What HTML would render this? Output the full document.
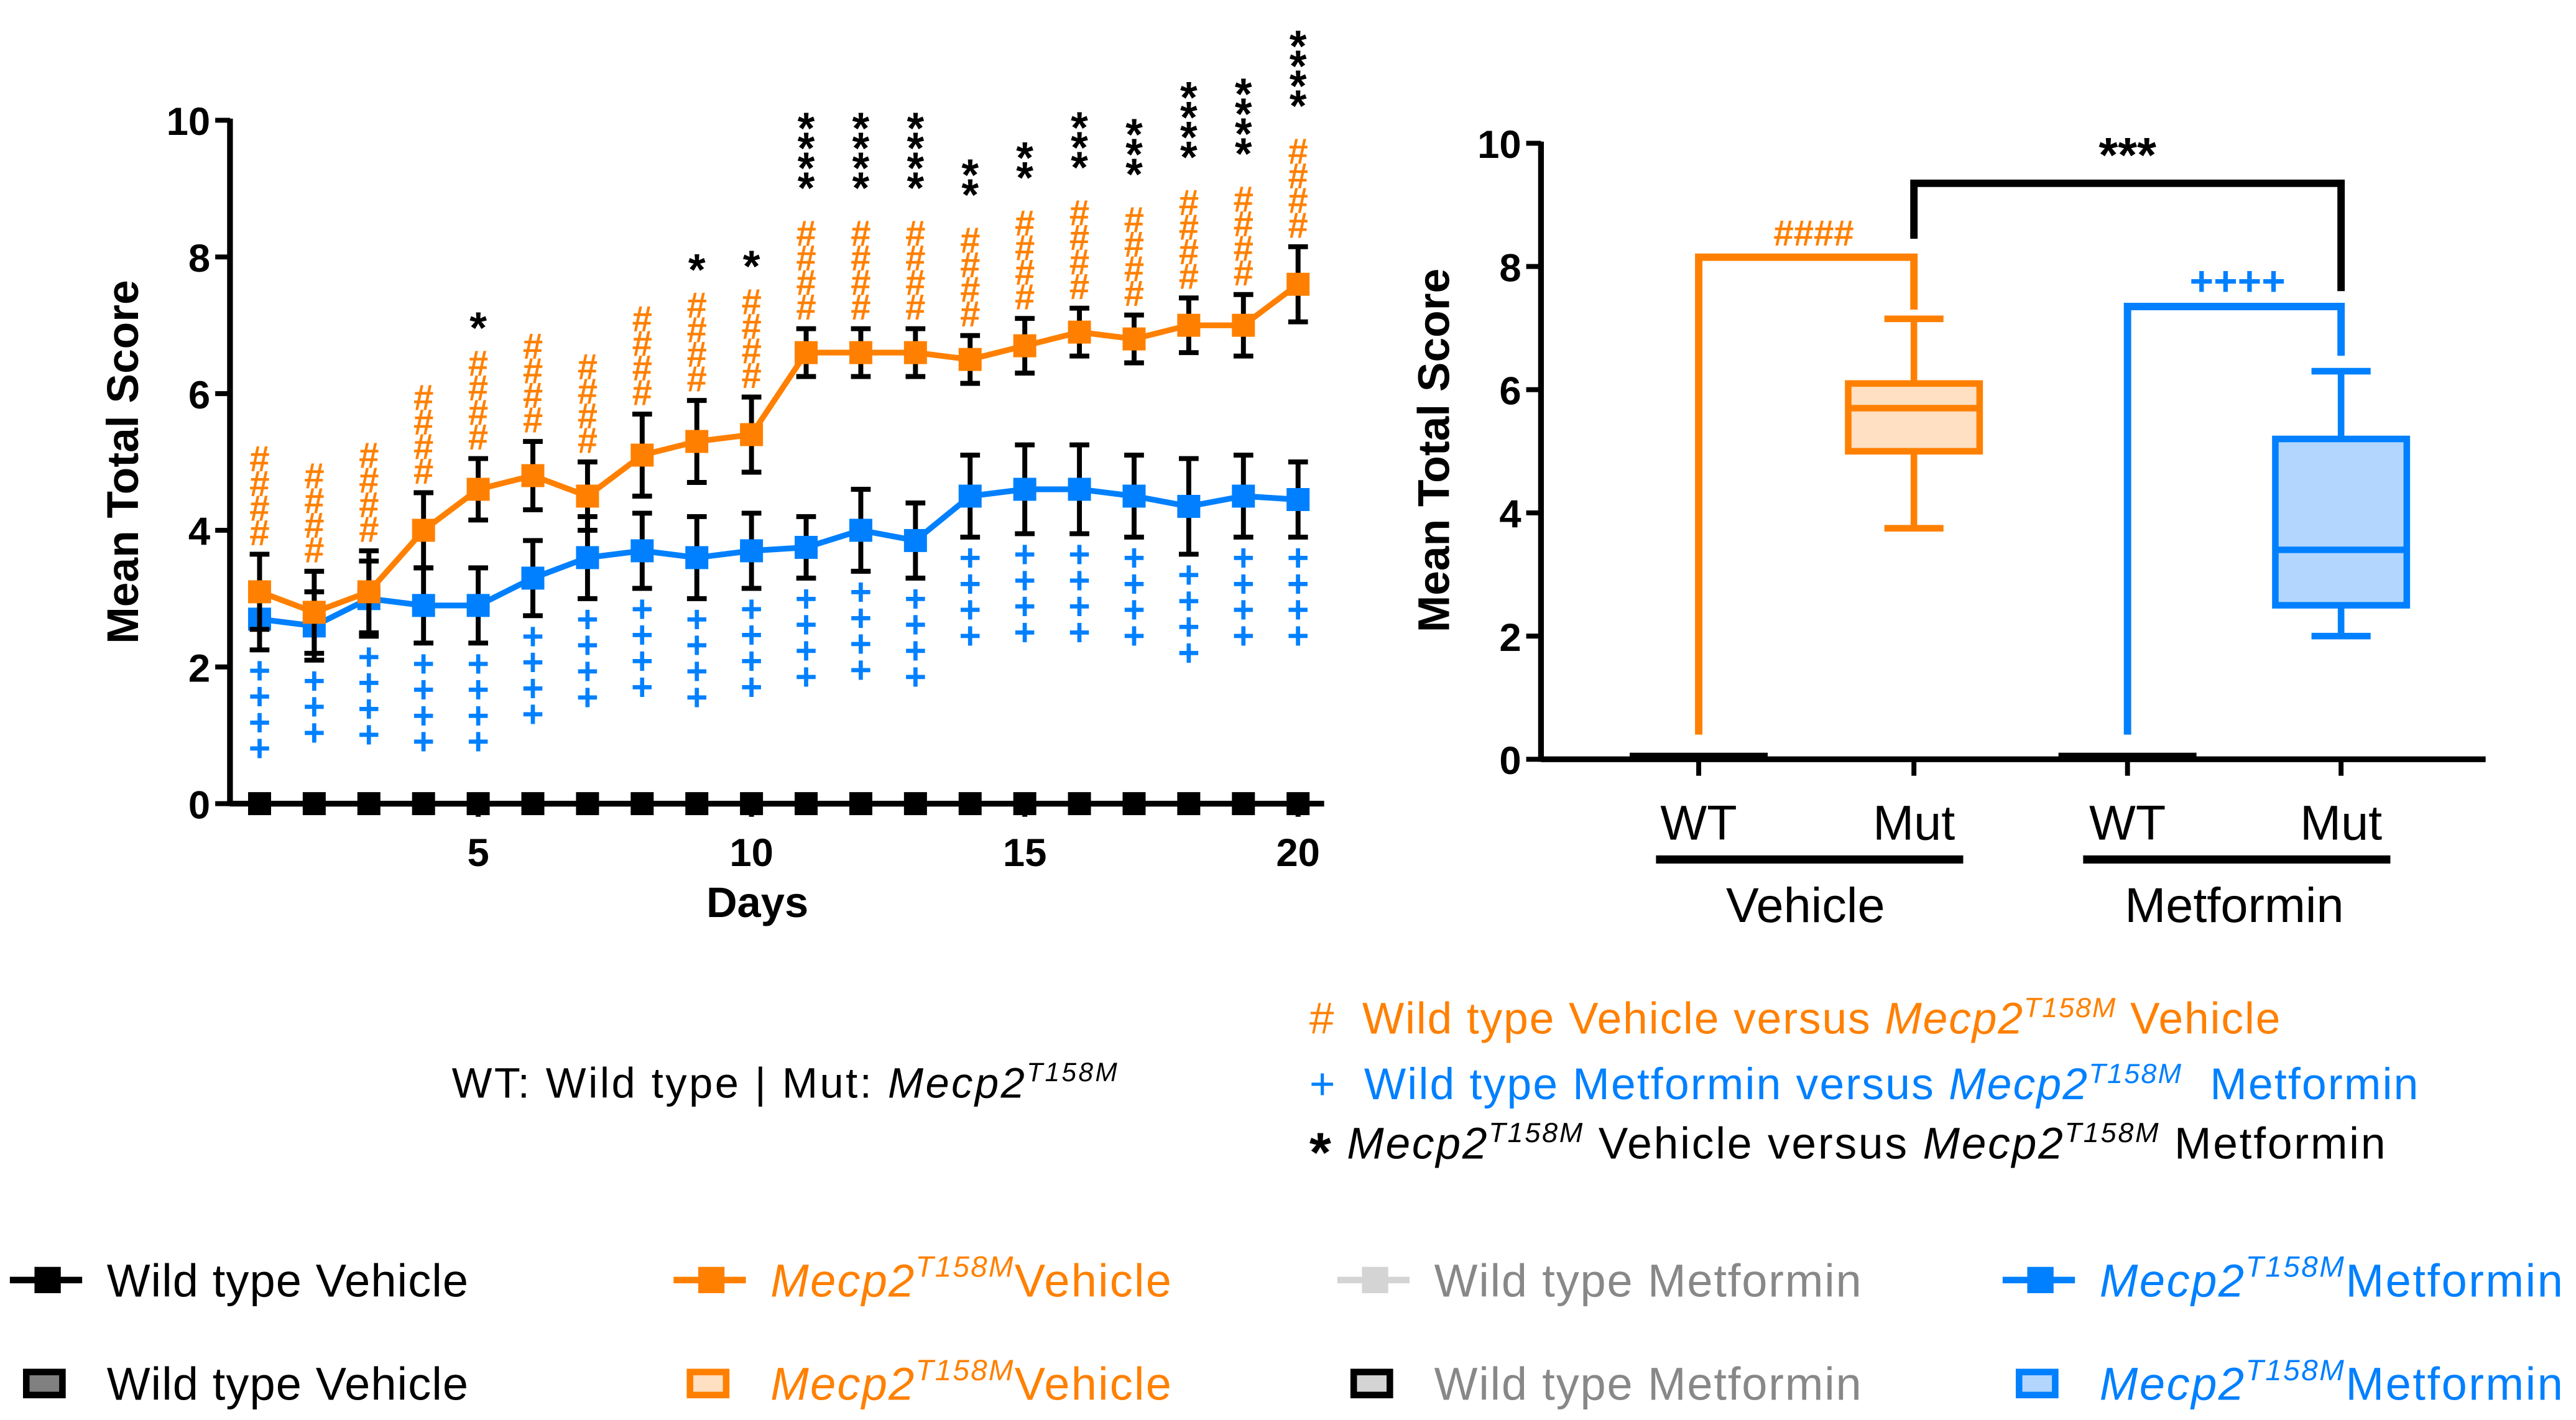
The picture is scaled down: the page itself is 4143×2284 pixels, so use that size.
<!DOCTYPE html>
<html><head><meta charset="utf-8"><style>
html,body{margin:0;padding:0;background:#fff;}
svg{display:block;}
text{font-family:"Liberation Sans",sans-serif;}
</style></head><body>
<svg id="fig" width="4143" height="2284" viewBox="0 0 1568 864" xmlns="http://www.w3.org/2000/svg">
<g id="left"></g>
<g id="right"></g>
<g id="notes">
<text x="275" y="668" font-size="26" fill="#000" textLength="405">WT: Wild type | Mut: <tspan font-style="italic">Mecp2</tspan><tspan font-style="italic" font-size="16" dy="-10">T158M</tspan></text>
<text x="797" y="629" font-size="27" fill="#ff8000" textLength="591"># &#160;Wild type Vehicle versus <tspan font-style="italic">Mecp2</tspan><tspan font-style="italic" font-size="17" dy="-10">T158M</tspan><tspan dy="10"> Vehicle</tspan></text>
<text x="797" y="669" font-size="27" fill="#0080ff" textLength="675">+ &#160;Wild type Metformin versus <tspan font-style="italic">Mecp2</tspan><tspan font-style="italic" font-size="17" dy="-10">T158M</tspan><tspan dy="10"> &#160;Metformin</tspan></text>
<text x="797" y="705" font-size="27" fill="#000" textLength="655"><tspan font-size="34" font-weight="bold" dy="8">*</tspan><tspan dy="-8"> </tspan><tspan font-style="italic">Mecp2</tspan><tspan font-style="italic" font-size="17" dy="-10">T158M</tspan><tspan dy="10"> Vehicle versus </tspan><tspan font-style="italic">Mecp2</tspan><tspan font-style="italic" font-size="17" dy="-10">T158M</tspan><tspan dy="10"> Metformin</tspan></text>
</g>
<g id="legend"></g>
</svg>
<script>
// ---- line chart data ----
const days = [1,2,3,4,5,6,7,8,9,10,11,12,13,14,15,16,17,18,19,20];
const mutVeh = [3.1,2.8,3.1,4.0,4.6,4.8,4.5,5.1,5.3,5.4,6.6,6.6,6.6,6.5,6.7,6.9,6.8,7.0,7.0,7.6];
const mutVehErr = [0.55,0.6,0.6,0.55,0.45,0.5,0.5,0.6,0.6,0.55,0.35,0.35,0.35,0.35,0.4,0.35,0.35,0.4,0.45,0.55];
const mutMet = [2.7,2.6,3.0,2.9,2.9,3.3,3.6,3.7,3.6,3.7,3.75,4.0,3.85,4.5,4.6,4.6,4.5,4.35,4.5,4.45];
const mutMetErr = [0.45,0.5,0.55,0.55,0.55,0.55,0.6,0.55,0.6,0.55,0.45,0.6,0.55,0.6,0.65,0.65,0.6,0.7,0.6,0.55];
const wtVeh = [0,0,0,0,0,0,0,0,0,0,0,0,0,0,0,0,0,0,0,0];
const hashCount = [4,4,4,4,4,4,4,4,4,4,4,4,4,4,4,4,4,4,4,4];
const plusCount = [4,3,4,4,4,4,4,4,4,4,4,4,4,4,4,4,4,4,4,4];
const starCount = [0,0,0,0,1,0,0,0,1,1,4,4,4,2,2,3,3,4,4,4];
const yTicks = [0,2,4,6,8,10];
const xTicks = [5,10,15,20];
// ---- box chart data ----
const boxCats = ["WT","Mut","WT","Mut"];
const boxStats = [null,{min:3.75,q1:5.0,med:5.7,q3:6.1,max:7.15},null,{min:2.0,q1:2.5,med:3.4,q3:5.2,max:6.3}];

const NS="http://www.w3.org/2000/svg";
function mk(parent,tag,attrs,txt){const e=document.createElementNS(NS,tag);for(const k in attrs)e.setAttribute(k,attrs[k]);if(txt!==undefined)e.textContent=txt;parent.appendChild(e);return e;}

const OR="#ff8000", BL="#0080ff";
const L=document.getElementById('left');
const lx=d=>158+(d-1)*33.27, ly=v=>489-v*41.6;
let e;
e=mk(L,'line',{x1:140,y1:ly(0),x2:806,y2:ly(0),stroke:'#000','stroke-width':3.5});


e=mk(L,'line',{x1:140,y1:ly(10)-1,x2:140,y2:ly(0)+1.5,stroke:'#000','stroke-width':3.5});


yTicks.forEach(t=>{
  mk(L,'line',{x1:131,y1:ly(t),x2:140,y2:ly(t),stroke:'#000','stroke-width':3});
  e=mk(L,'text',{x:128,y:ly(t)+9,'font-size':24,'font-weight':'bold','text-anchor':'end'},t);
  
  
});
xTicks.forEach(t=>{
  mk(L,'line',{x1:lx(t),y1:ly(0),x2:lx(t),y2:ly(0)+8,stroke:'#000','stroke-width':3});
  e=mk(L,'text',{x:lx(t),y:527,'font-size':24,'font-weight':'bold','text-anchor':'middle'},t);
  
  
});
e=mk(L,'text',{x:461,y:558,'font-size':26,'font-weight':'bold','text-anchor':'middle'},'Days');


e=mk(L,'text',{x:0,y:0,'font-size':27,'font-weight':'bold','text-anchor':'middle',transform:'translate(84,281) rotate(-90)'},'Mean Total Score');



function series(vals,errs,col,name){
  const g=mk(L,'g',{});
  
  
  if(errs) vals.forEach((v,i)=>{
    const x=lx(days[i]),a=ly(v+errs[i]),b=ly(v-errs[i]);
    mk(g,'path',{d:`M${x},${a}V${b}M${x-6},${a}H${x+6}M${x-6},${b}H${x+6}`,stroke:'#000','stroke-width':3,fill:'none'});
  });
  mk(g,'polyline',{points:vals.map((v,i)=>lx(days[i])+','+ly(v)).join(' '),stroke:col,'stroke-width':3.5,fill:'none'});
  vals.forEach((v,i)=>{
    const m=mk(g,'rect',{x:lx(days[i])-7,y:ly(v)-7,width:14,height:14,fill:col});
    
    
  });
}
series(wtVeh,null,'#000','wild-type-vehicle-series');
series(mutMet,mutMetErr,BL,'mecp2-metformin-series');
series(mutVeh,mutVehErr,OR,'mecp2-vehicle-series');
days.forEach((d,i)=>{
  const x=lx(d);
  const top=mutVeh[i]+mutVehErr[i];
  let y=top+0.3;
  for(let k=0;k<hashCount[i];k++){
    e=mk(L,'text',{x:x,y:ly(y+k*0.36)+7,'font-size':22,'font-weight':'bold','text-anchor':'middle',fill:OR},'#');
    
    
  }
  let sy=y+(hashCount[i]-1)*0.36+0.75;
  if(starCount[i]===1) sy=y+(hashCount[i]-1)*0.36+0.6;
  for(let k=0;k<starCount[i];k++){
    e=mk(L,'text',{x:x,y:ly(sy+k*0.29)+12,'font-size':27,'font-weight':'bold','text-anchor':'middle',fill:'#000'},'*');
    
    
  }
  const bot=mutMet[i]-mutMetErr[i];
  for(let k=0;k<plusCount[i];k++){
    e=mk(L,'text',{x:x,y:ly(bot-0.3-k*0.38)+8,'font-size':23,'font-weight':'bold','text-anchor':'middle',fill:BL},'+');
    
    
  }
});

const R=document.getElementById('right');
const rx=[1034,1165,1295,1425], ry=v=>462-v*37.5;
e=mk(R,'line',{x1:938,y1:ry(0),x2:1513,y2:ry(0),stroke:'#000','stroke-width':3.5});


e=mk(R,'line',{x1:938,y1:ry(10)-1,x2:938,y2:ry(0)+1.5,stroke:'#000','stroke-width':3.5});


yTicks.forEach(t=>{
  mk(R,'line',{x1:929,y1:ry(t),x2:938,y2:ry(t),stroke:'#000','stroke-width':3});
  e=mk(R,'text',{x:926,y:ry(t)+9,'font-size':24,'font-weight':'bold','text-anchor':'end'},t);
  
  
});
e=mk(R,'text',{x:0,y:0,'font-size':27,'font-weight':'bold','text-anchor':'middle',transform:'translate(882,274) rotate(-90)'},'Mean Total Score');


boxCats.forEach((c,i)=>{
  mk(R,'line',{x1:rx[i],y1:ry(0),x2:rx[i],y2:ry(0)+10,stroke:'#000','stroke-width':3});
  e=mk(R,'text',{x:rx[i],y:511,'font-size':30,'text-anchor':'middle'},c);
  
  
});
[[1008,1195,1099,'Vehicle'],[1268,1455,1360,'Metformin']].forEach(g=>{
  mk(R,'line',{x1:g[0],y1:523,x2:g[1],y2:523,stroke:'#000','stroke-width':5});
  e=mk(R,'text',{x:g[2],y:561,'font-size':30,'text-anchor':'middle'},g[3]);
  
  
});
const fills=[null,'#ffe0c2',null,'#b3d6ff'], strokes=['#000',OR,'#000',BL];
boxStats.forEach((s,i)=>{
  const x=rx[i];
  if(!s){
    e=mk(R,'rect',{x:x-42,y:ry(0)-4,width:84,height:5,fill:'#000'});
    
    
    return;
  }
  const g=mk(R,'g',{stroke:strokes[i],'stroke-width':4,fill:'none'});
  
  
  mk(g,'path',{d:`M${x},${ry(s.max)}V${ry(s.q3)}M${x},${ry(s.q1)}V${ry(s.min)}M${x-18},${ry(s.max)}H${x+18}M${x-18},${ry(s.min)}H${x+18}`});
  mk(g,'rect',{x:x-40,y:ry(s.q3),width:80,height:ry(s.q1)-ry(s.q3),fill:fills[i]});
  mk(g,'line',{x1:x-40,y1:ry(s.med),x2:x+40,y2:ry(s.med)});
});
function bracket(x1,x2,yl,yt,yr,col,lbl,lx_,lsz,name){
  e=mk(R,'path',{d:`M${x1},${ry(yl)}V${ry(yt)}H${x2}V${ry(yr)}`,stroke:col,'stroke-width':4.5,fill:'none'});
  
  
  e=mk(R,'text',{x:lx_,y:ry(yt)-7,'font-size':lsz,'font-weight':'bold','text-anchor':'middle',fill:col},lbl);
  
  
}
bracket(rx[0],rx[1],0.4,8.15,7.3,OR,'####',1104,22,'vehicle-bracket');
bracket(rx[2],rx[3],0.4,7.35,6.55,BL,'++++',1362,25,'metformin-bracket');
bracket(rx[1],rx[3],8.45,9.35,7.6,'#000','***',1295,30,'mutant-bracket');

const LG=document.getElementById('legend');
const items=[['Wild type Vehicle','#000','#000',false,'#000','#808080',220],
 ['Vehicle',OR,OR,true,OR,'#ffe0c2',244],
 ['Wild type Metformin','#888','#d4d4d4',false,'#000','#d4d4d4',260],
 ['Metformin',BL,BL,true,BL,'#b3d6ff',282]];
const lxs=[8,412,816,1221];
items.forEach((it,i)=>{
  const x=lxs[i];
  [0,1].forEach(r=>{
    const y=r?842:779;
    const g=mk(LG,'g',{});
    
    
    if(!r){
      mk(g,'line',{x1:x-2,y1:y,x2:x+42,y2:y,stroke:it[2],'stroke-width':4});
      mk(g,'rect',{x:x+13,y:y-8,width:16,height:16,fill:it[2]});
    } else {
      mk(g,'rect',{x:x+8,y:y-7,width:22,height:14,fill:it[5],stroke:it[4],'stroke-width':4});
    }
    const t=mk(g,'text',{x:x+57,y:y+10,'font-size':28,fill:it[1],textLength:it[6]});
    if(it[3]){
      mk(t,'tspan',{'font-style':'italic'},'Mecp2');
      mk(t,'tspan',{'font-style':'italic','font-size':18,dy:-12},'T158M');
      mk(t,'tspan',{dy:12},it[0]);
    } else t.textContent=it[0];
  });
});
</script>
</body></html>
